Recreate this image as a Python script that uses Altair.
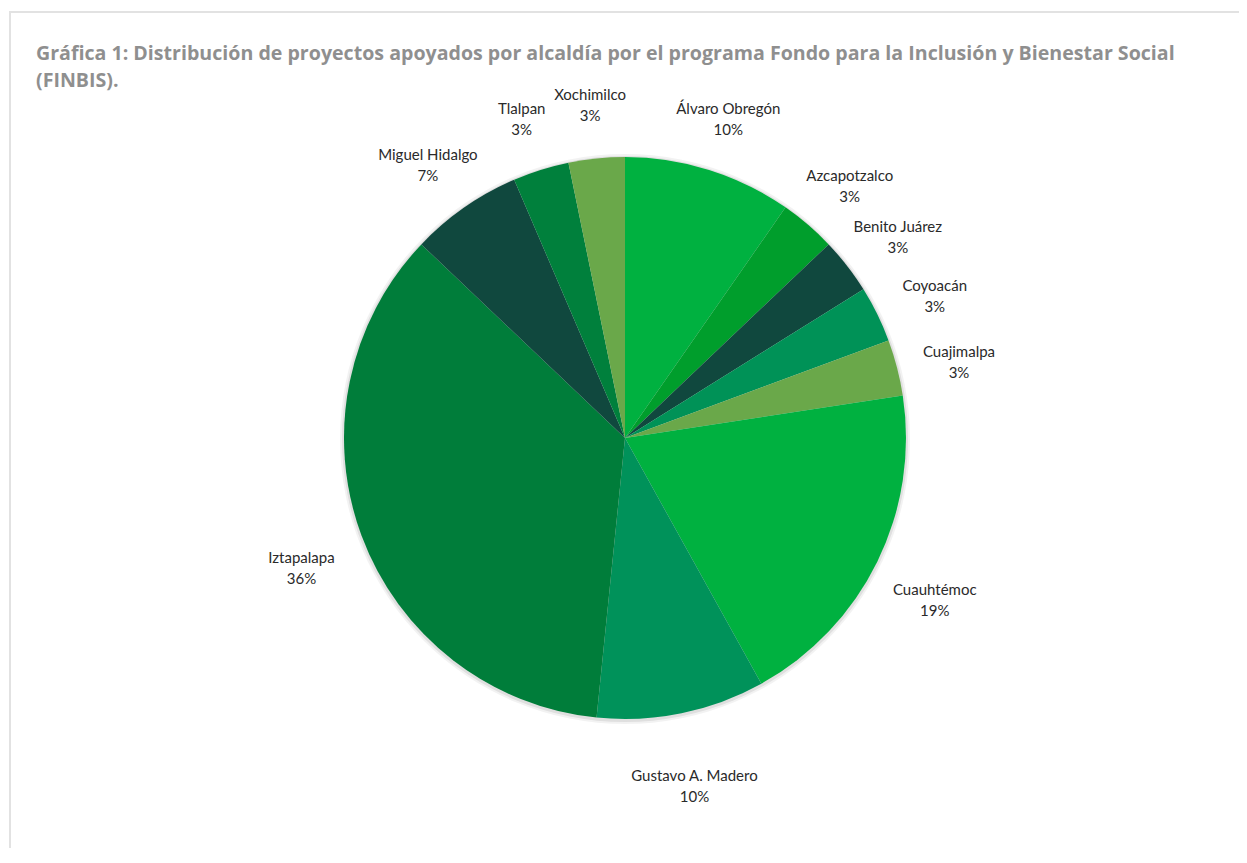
import altair as alt
import pandas as pd

alcaldias = ["Álvaro Obregón", "Azcapotzalco", "Benito Juárez", "Coyoacán", "Cuajimalpa",
             "Cuauhtémoc", "Gustavo A. Madero", "Iztapalapa", "Miguel Hidalgo", "Tlalpan", "Xochimilco"]
proyectos = [3, 1, 1, 1, 1, 6, 3, 11, 2, 1, 1]
porcentajes = [10, 3, 3, 3, 3, 19, 10, 36, 7, 3, 3]
colores = ["#00b140", "#009e2c", "#10483e", "#009257", "#6aa84a",
           "#00b140", "#00925a", "#007d3a", "#10483e", "#00803c", "#6aa84a"]

df = pd.DataFrame({
    "alcaldia": alcaldias,
    "proyectos": proyectos,
    "pct": porcentajes,
    "orden": list(range(len(alcaldias))),
})

W, H = 1231, 840
CX, CY = 617, 430

base = alt.Chart(df).encode(
    theta=alt.Theta("proyectos:Q", stack=True),
    order=alt.Order("orden:Q"),
)

shadow1 = alt.Chart(df).transform_filter("datum.orden == 0").mark_arc(
    theta=0, theta2=6.2832, outerRadius=285, color="#000000", opacity=0.05
).encode(x=alt.value(CX), y=alt.value(CY + 1))
shadow2 = alt.Chart(df).transform_filter("datum.orden == 0").mark_arc(
    theta=0, theta2=6.2832, outerRadius=283, color="#000000", opacity=0.08
).encode(x=alt.value(CX), y=alt.value(CY + 1))

pie = base.mark_arc(outerRadius=281, stroke=None).encode(
    x=alt.value(CX), y=alt.value(CY),
    color=alt.Color("alcaldia:N", scale=alt.Scale(domain=alcaldias, range=colores), legend=None),
)

labels = base.transform_calculate(
    etiqueta="datum.alcaldia + '\\n' + datum.pct + '%'"
).mark_text(radius=345, font="Lato", fontSize=15, color="#2a2a2a",
            lineBreak="\n", lineHeight=21, align="center", baseline="middle").encode(
    x=alt.value(CX), y=alt.value(CY),
    text="etiqueta:N",
)

border_top = alt.Chart(df).mark_rule(color="#e2e2e2", strokeWidth=2).encode(
    x=alt.value(1), x2=alt.value(W), y=alt.value(4)
)
border_left = alt.Chart(df).mark_rule(color="#e2e2e2", strokeWidth=2).encode(
    x=alt.value(2), y=alt.value(4), y2=alt.value(H)
)

chart = alt.layer(border_top, border_left, shadow1, shadow2, pie, labels).properties(
    width=W, height=H,
    autosize=alt.AutoSizeParams(type="none"),
    padding=0,
    title=alt.Title(
        ["Gráfica 1: Distribución de proyectos apoyados por alcaldía por el programa Fondo para la Inclusión y Bienestar Social",
         "(FINBIS)."],
        anchor="start", frame="group", font="Open Sans", fontSize=19.6, fontWeight="bold",
        color="#8f8f8f", baseline="top", offset=0, dx=28, dy=84, lineHeight=27,
    ),
).configure_view(stroke=None)

chart.save("out.html", embed_options={"renderer": "svg", "actions": False})
